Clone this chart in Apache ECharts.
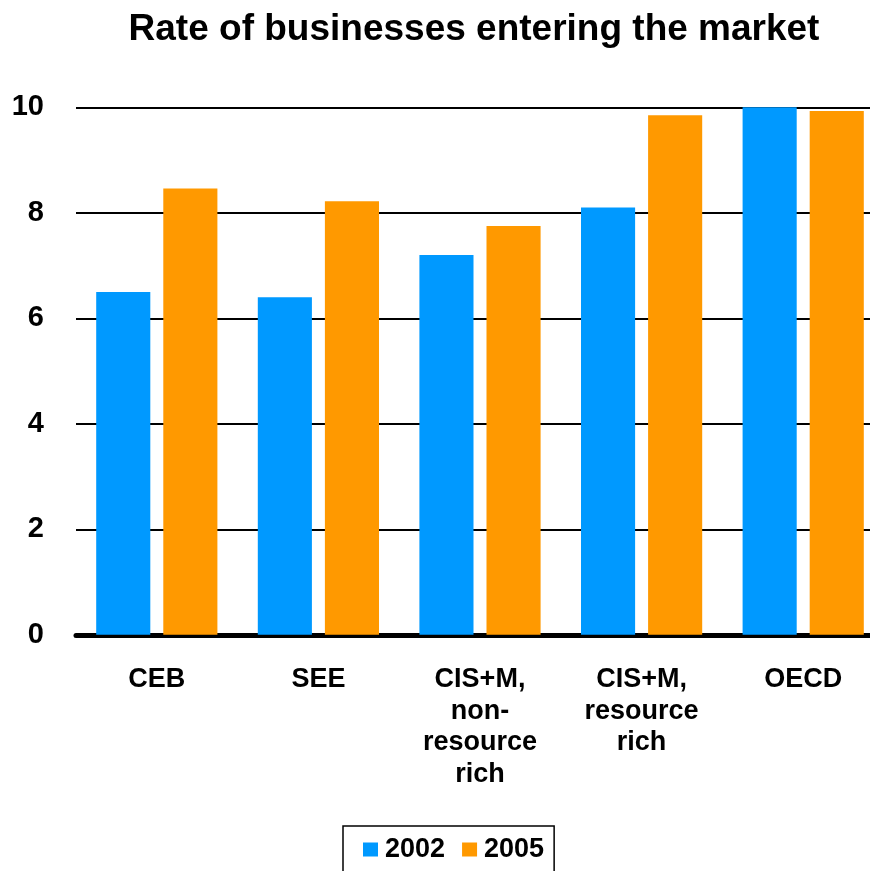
<!DOCTYPE html>
<html>
<head>
<meta charset="utf-8">
<script src="https://cdn.jsdelivr.net/npm/echarts@6/dist/echarts.min.js"></script>
<style>
  html, body { margin: 0; padding: 0; background: #ffffff; }
  #chart { width: 870px; height: 871px; }
</style>
</head>
<body>
<div id="chart"></div>
<script>
// Business entry rates by region, 2002 vs 2005
const categories = ['CEB', 'SEE', 'CIS+M,\nnon-\nresource\nrich', 'CIS+M,\nresource\nrich', 'OECD'];
const seriesNames = ['2002', '2005'];
const values2002 = [6.5, 6.4, 7.2, 8.1, 10.0];
const values2005 = [8.46, 8.22, 7.75, 9.85, 9.93];
const yTicks = [0, 2, 4, 6, 8, 10];

const FONT = '"Liberation Sans", Arial, sans-serif';
const chart = echarts.init(document.getElementById('chart'), null, { renderer: 'canvas' });

chart.setOption({
  backgroundColor: '#ffffff',
  animation: false,
  title: {
    text: 'Rate of businesses entering the market',
    left: 469,
    textAlign: 'center',
    top: 6,
    textStyle: { fontFamily: FONT, fontWeight: 'bold', fontSize: 37, color: '#000000' }
  },
  legend: {
    data: seriesNames,
    left: 343,
    top: 826,
    width: 230,
    itemWidth: 15,
    itemHeight: 14,
    itemGap: 17,
    padding: [10, 10, 20, 20],
    borderColor: '#000000',
    borderWidth: 1.5,
    backgroundColor: '#ffffff',
    icon: 'rect',
    textStyle: { fontFamily: FONT, fontWeight: 'bold', fontSize: 27, color: '#000000', padding: [0, 0, 0, 2] }
  },
  grid: {
    left: 76,
    top: 107.3,
    width: 808,
    height: 527.5,
    outerBoundsMode: 'none',
    containLabel: false
  },
  xAxis: {
    type: 'category',
    data: categories,
    axisLine: { show: true, onZero: true, lineStyle: { color: '#000000', width: 5 } },
    axisTick: { show: false },
    axisLabel: {
      interval: 0,
      margin: 29,
      fontFamily: FONT,
      fontWeight: 'bold',
      fontSize: 27,
      lineHeight: 31.5,
      color: '#000000',
      align: 'center'
    }
  },
  yAxis: {
    type: 'value',
    min: yTicks[0],
    max: yTicks[yTicks.length - 1],
    interval: 2,
    axisLine: { show: false },
    axisTick: { show: false },
    axisLabel: {
      margin: 32,
      fontFamily: FONT,
      fontWeight: 'bold',
      fontSize: 29,
      color: '#000000'
    },
    splitLine: { show: true, lineStyle: { color: '#000000', width: 2 } }
  },
  series: [
    {
      name: seriesNames[0],
      type: 'bar',
      data: values2002,
      itemStyle: { color: '#0099ff' },
      barGap: '24%',
      barCategoryGap: '25%'
    },
    {
      name: seriesNames[1],
      type: 'bar',
      data: values2005,
      itemStyle: { color: '#ff9900' },
      barGap: '24%',
      barCategoryGap: '25%'
    }
  ]
});
</script>
</body>
</html>
